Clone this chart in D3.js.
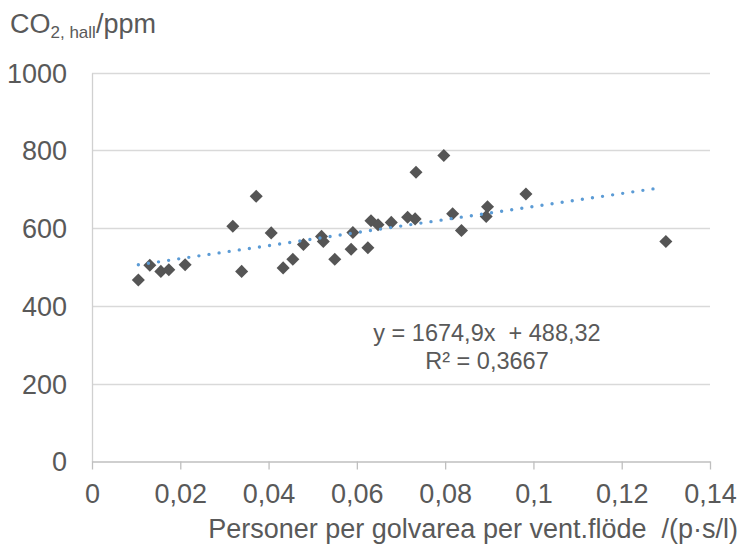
<!DOCTYPE html>
<html>
<head>
<meta charset="utf-8">
<script src="https://cdn.jsdelivr.net/npm/d3@7"></script>
<style>
  html, body { margin: 0; padding: 0; background: #fff; }
  svg { display: block; font-family: "Liberation Sans", Arial, sans-serif; }
</style>
</head>
<body>
<svg id="chart" width="740" height="551"></svg>
<script>
// Persons per floor area per ventilation flow
const xValues = [0.0105, 0.0131, 0.0156, 0.0174, 0.0211, 0.0319, 0.0339, 0.0372, 0.0406, 0.0433,
  0.0455, 0.0479, 0.0520, 0.0524, 0.0550, 0.0587, 0.0591, 0.0625, 0.0632, 0.0648,
  0.0678, 0.0715, 0.0732, 0.0734, 0.0797, 0.0817, 0.0837, 0.0893, 0.0896, 0.0983, 0.1300];
// CO2 in hall, ppm
const yValues = [467, 505, 489, 493, 506, 605, 489, 682, 588, 498,
  520, 558, 579, 566, 520, 546, 589, 550, 619, 609,
  615, 628, 624, 744, 787, 637, 594, 630, 655, 688, 566];

const xTicks = [0, 0.02, 0.04, 0.06, 0.08, 0.1, 0.12, 0.14];
const yTicks = [0, 200, 400, 600, 800, 1000];

// linear trend from the chart
const trendSlope = 1674.9;
const trendIntercept = 488.32;
const trendRange = [0.0105, 0.1285];
const trendLabels = ["y = 1674,9x  + 488,32", "R² = 0,3667"];

const svg = d3.select("#chart");

const x = d3.scaleLinear().domain([0, 0.14]).range([92, 710]);
const y = d3.scaleLinear().domain([0, 1000]).range([461.5, 72.7]);

const sv = d3.formatLocale({ decimal: ",", thousands: "\u00a0", grouping: [3], currency: ["", " kr"] });
const fmtX = sv.format("~g");

const textColor = "#595959";

// Gridlines
svg.append("g")
  .selectAll("line")
  .data(yTicks.filter(d => d > 0))
  .enter()
  .append("line")
  .attr("x1", x(0))
  .attr("x2", x(0.14))
  .attr("y1", d => Math.round(y(d)) + 0.5)
  .attr("y2", d => Math.round(y(d)) + 0.5)
  .attr("stroke", "#d9d9d9")
  .attr("stroke-width", 1.3);

// Y axis (line + labels)
const yAxis = svg.append("g")
  .attr("transform", `translate(${x(0)},0)`)
  .call(d3.axisLeft(y).tickValues(yTicks).tickFormat(d3.format("d")).tickSize(0).tickPadding(25));
yAxis.select(".domain").attr("stroke", "#d0d0d0").attr("stroke-width", 1.3);
yAxis.selectAll("text")
  .attr("fill", textColor)
  .style("font-size", "27px")
  .attr("dy", "0.35em");

// X axis
const xAxis = svg.append("g")
  .attr("transform", `translate(0,${y(0)})`)
  .call(d3.axisBottom(x).tickValues(xTicks).tickFormat(fmtX).tickSize(8).tickSizeOuter(0).tickPadding(14));
xAxis.select(".domain").attr("stroke", "#bfbfbf").attr("stroke-width", 1.3);
xAxis.selectAll(".tick line").attr("stroke", "#bfbfbf").attr("stroke-width", 1.3);
xAxis.selectAll("text")
  .attr("fill", textColor)
  .style("font-size", "27px");

// Points
svg.append("g")
  .selectAll("path")
  .data(xValues.map((v, i) => [v, yValues[i]]))
  .enter()
  .append("path")
  .attr("d", d3.symbol(d3.symbolSquare, 85))
  .attr("transform", d => `translate(${x(d[0])},${y(d[1])}) rotate(45)`)
  .attr("fill", "#555555");

// Trendline (dotted)
svg.append("line")
  .attr("x1", x(trendRange[0]))
  .attr("y1", y(trendSlope * trendRange[0] + trendIntercept))
  .attr("x2", x(trendRange[1]))
  .attr("y2", y(trendSlope * trendRange[1] + trendIntercept))
  .attr("stroke", "#5b9bd5")
  .attr("stroke-width", 3.4)
  .attr("stroke-linecap", "round")
  .attr("stroke-dasharray", "0 10.2");

// Trend equation
svg.append("g")
  .selectAll("text")
  .data(trendLabels)
  .enter()
  .append("text")
  .attr("x", 487)
  .attr("y", (d, i) => 341 + i * 27.5)
  .attr("text-anchor", "middle")
  .attr("fill", textColor)
  .style("font-size", "23.5px")
  .style("white-space", "pre")
  .text(d => d);

// Y title with subscript
const yTitle = svg.append("text")
  .attr("x", 10)
  .attr("y", 33)
  .attr("fill", textColor)
  .style("font-size", "27px");
yTitle.append("tspan").text("CO");
yTitle.append("tspan").attr("dy", 5).style("font-size", "17px").text("2, hall");
yTitle.append("tspan").attr("dy", -5).text("/ppm");

// X title
svg.append("text")
  .attr("x", 738)
  .attr("y", 538)
  .attr("text-anchor", "end")
  .attr("fill", textColor)
  .style("font-size", "27px")
  .style("white-space", "pre")
  .text("Personer per golvarea per vent.flöde  /(p·s/l)");
</script>
</body>
</html>
